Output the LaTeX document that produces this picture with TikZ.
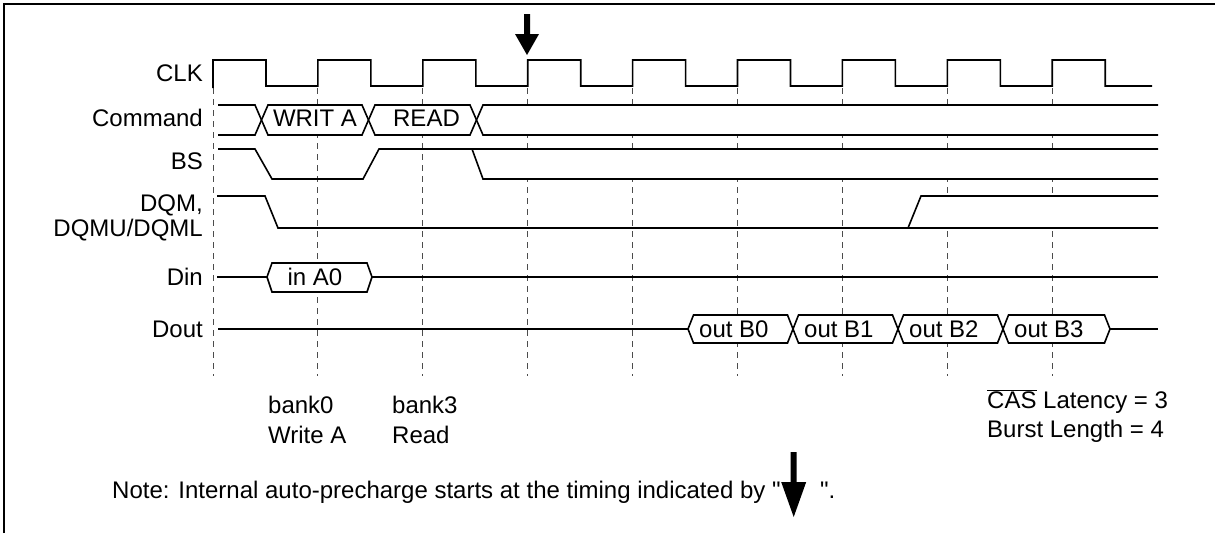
\documentclass[tikz,border=0pt]{standalone}
\usepackage{fontspec}
\newfontfamily\sigfont{Liberation Sans}
\begin{document}
\begin{tikzpicture}[
    x=1pt, y=-1pt,
    font=\sigfont\fontsize{24}{30}\selectfont,
    sig/.style={line width=1.6pt, line join=miter},
    bus/.style={sig, fill=white},
    grid/.style={dash pattern=on 6pt off 5pt, line width=1pt, black!70},
    lbl/.style={anchor=base east, inner sep=0pt},
    txt/.style={anchor=base west, inner sep=0pt},
    val/.style={anchor=base, inner sep=0pt}
]
\useasboundingbox (0,0) rectangle (1215,533);

% Frame
\draw[line width=1.2pt] (4,533) -- (4,4) -- (1215,4);

% Clock edges
\foreach \i in {0,...,8}
    \draw[grid] ({213+104.9*\i},88) -- ({213+104.9*\i},376);

% Signal names
\node[lbl] (clk) at (203,81.5) {CLK};
\node[lbl] (cmd) at (203,126.5) {Command};
\node[lbl] (bs) at (203,169.5) {BS};
\node[lbl] (dqm) at (203,211.5) {DQM,};
\node[lbl] (dqmul) at (203,236.5) {DQMU/DQML};
\node[lbl] (din) at (203,285) {Din};
\node[lbl] (dout) at (203,337) {Dout};

% CLK
\draw[sig] (213,88) \foreach \i in {0,...,7} {
    -- ({213+104.9*\i},60) -- ({266+104.9*\i},60)
    -- ({266+104.9*\i},86) -- ({317.9+104.9*\i},86) }
    -- (1052.2,60) -- (1105.2,60) -- (1105.2,86) -- (1152,86);

% Command
\draw[sig] (218,105) -- (255,105) -- (261.5,120) -- (255,135) -- (218,135);
\draw[bus] (261.5,120) -- (268,105) -- (362,105) -- (368.5,120) -- (362,135) -- (268,135) -- cycle;
\node[val] (wrA) at (315,126.5) {WRIT A};
\draw[bus] (368.5,120) -- (375,105) -- (470,105) -- (476.5,120) -- (470,135) -- (375,135) -- cycle;
\node[val] (rdB) at (426.5,126.5) {READ};
\draw[bus] (1158,105) -- (483,105) -- (476.5,120) -- (483,135) -- (1158,135);

% BS
\draw[bus] (1158,149) -- (472,149) -- (483,179) -- (1158,179);
\draw[sig] (218,149) -- (255,149) -- (272,179) -- (363,179) -- (379,149) -- (472,149);

% DQM
\draw[sig] (217,196) -- (265,196) -- (278,228) -- (908,228);
\draw[bus] (1158,228) -- (908,228) -- (921,196) -- (1158,196);

% Din
\draw[sig] (217,277) -- (267,277);
\draw[bus] (267,277) -- (272,263) -- (367,263) -- (372,277) -- (367,292) -- (272,292) -- cycle;
\draw[sig] (372,277) -- (1158,277);
\node[val] (inA) at (315,285) {in A0};

% Dout
\draw[sig] (218,329) -- (688,329);
\foreach \a/\b/\t [count=\k] in {688/793/out B0, 793/898/out B1, 898/1003/out B2, 1003/1110/out B3} {
    \draw[bus] (\a,329) -- ({\a+5.5},315) -- ({\b-5.5},315) -- (\b,329) -- ({\b-5.5},343) -- ({\a+5.5},343) -- cycle;
    \node[txt] (out\k) at ({\a+11},337) {\t};
}
\draw[sig] (1110,329) -- (1158,329);

% Precharge marker
\fill (524,14) -- (530,14) -- (530,34) -- (539,34) -- (527,55) -- (515,34) -- (524,34) -- cycle;

% Notes
\node[txt] (bankA) at (268,413) {bank0};
\node[txt] (opA) at (268,443) {Write A};
\node[txt] (bankB) at (392,413) {bank3};
\node[txt] (opB) at (392,443) {Read};
\node[txt] (cas) at (987,408) {$\overline{\hbox{CAS}}$ Latency = 3};
\node[txt] (burst) at (987,437) {Burst Length = 4};
\node[txt] (note) at (112,498) {Note: Internal auto-precharge starts at the timing indicated by "};
\node[txt] (noteend) at (820,498) {".};
\fill (790.7,452) -- (796.7,452) -- (796.7,482) -- (806.2,482) -- (793.7,517) -- (781.2,482) -- (790.7,482) -- cycle;

\end{tikzpicture}
\end{document}
